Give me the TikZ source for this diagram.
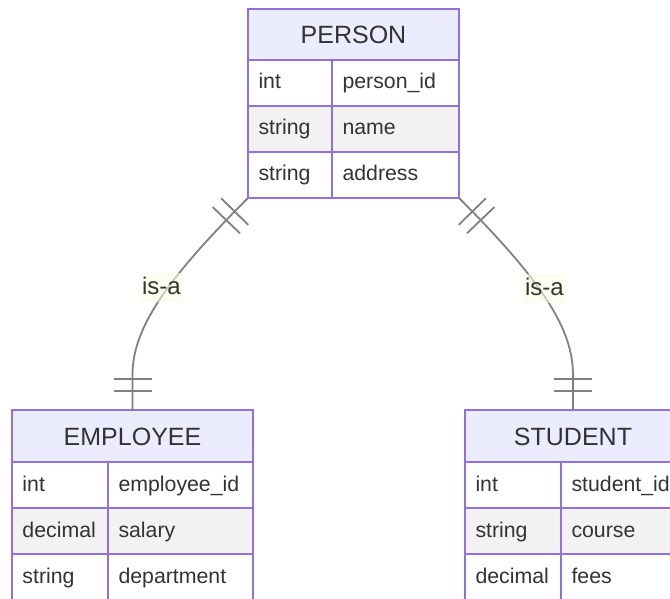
\documentclass[tikz,border=0pt]{standalone}
\usepackage{fontspec}
\setmainfont{Liberation Sans}
\usetikzlibrary{decorations.markings}
\definecolor{bord}{RGB}{147,112,219}
\definecolor{hdrfill}{RGB}{236,236,255}
\definecolor{evenfill}{RGB}{242,242,242}
\definecolor{txt}{RGB}{51,51,51}
\definecolor{edgec}{RGB}{128,128,128}
\definecolor{lblfill}{RGB}{246,252,230}
\tikzset{
  hdrcell/.style={draw=bord, fill=hdrfill, line width=1.8pt, anchor=north west, inner sep=0pt, outer sep=0pt, text=txt, font=\fontsize{25}{30}\selectfont, text height=18pt, text depth=0pt},
  cell/.style={draw=bord, line width=1.8pt, anchor=north west, inner xsep=10.5pt, inner ysep=0pt, outer sep=0pt, minimum height=46pt, align=left, text=txt, font=\fontsize{21.3}{25}\selectfont, text height=16pt, text depth=4pt},
  oddrow/.style={fill=white},
  evenrow/.style={fill=evenfill},
  entitybox/.style={draw=bord, line width=1.8pt, anchor=north west, inner sep=0pt, outer sep=0pt},
  barmark/.style={draw=edgec, line width=1.8pt},
  rel/.style={draw=edgec, line width=1.8pt, postaction={decorate}, decoration={markings,
      mark=at position 19pt with {\draw[barmark] (0pt,-19pt) -- (0pt,19pt);},
      mark=at position 31pt with {\draw[barmark] (0pt,-19pt) -- (0pt,19pt);},
      mark=at position -19pt with {\draw[barmark] (0pt,-19pt) -- (0pt,19pt);},
      mark=at position -31pt with {\draw[barmark] (0pt,-19pt) -- (0pt,19pt);}}},
  lbl/.style={fill=lblfill, fill opacity=0.6, text opacity=1, text=txt, font=\fontsize{24}{28}\selectfont, inner xsep=2.5pt, inner ysep=4pt, text height=17.5pt, text depth=4pt}
}
\begin{document}
\begin{tikzpicture}[x=1pt, y=-1pt]
\useasboundingbox (0,0) rectangle (670,599);
\clip (0,0) rectangle (670,599);
% PERSON
\node[entitybox, minimum width=211pt, minimum height=189pt] (person) at (248,9) {};
\node[hdrcell, minimum width=211pt, minimum height=51pt] (personH) at (248,9) {PERSON};
\node[cell, oddrow, text width=63pt] (p1t) at (248,60) {int};
\node[cell, oddrow, text width=106pt] (p1n) at (332,60) {person\_id};
\node[cell, evenrow, text width=63pt] (p2t) at (248,106) {string};
\node[cell, evenrow, text width=106pt] (p2n) at (332,106) {name};
\node[cell, oddrow, text width=63pt] (p3t) at (248,152) {string};
\node[cell, oddrow, text width=106pt] (p3n) at (332,152) {address};
% EMPLOYEE
\node[entitybox, minimum width=241pt, minimum height=190pt] (employee) at (12,410) {};
\node[hdrcell, minimum width=241pt, minimum height=52pt] (employeeH) at (12,410) {EMPLOYEE};
\node[cell, oddrow, text width=75pt] (e1t) at (12,462) {int};
\node[cell, oddrow, text width=124pt] (e1n) at (108,462) {employee\_id};
\node[cell, evenrow, text width=75pt] (e2t) at (12,508) {decimal};
\node[cell, evenrow, text width=124pt] (e2n) at (108,508) {salary};
\node[cell, oddrow, text width=75pt] (e3t) at (12,554) {string};
\node[cell, oddrow, text width=124pt] (e3n) at (108,554) {department};
% STUDENT
\node[entitybox, minimum width=216pt, minimum height=190pt] (student) at (465,410) {};
\node[hdrcell, minimum width=216pt, minimum height=52pt] (studentH) at (465,410) {STUDENT};
\node[cell, oddrow, text width=75pt] (s1t) at (465,462) {int};
\node[cell, oddrow, text width=99pt] (s1n) at (561,462) {student\_id};
\node[cell, evenrow, text width=75pt] (s2t) at (465,508) {string};
\node[cell, evenrow, text width=99pt] (s2n) at (561,508) {course};
\node[cell, oddrow, text width=75pt] (s3t) at (465,554) {decimal};
\node[cell, oddrow, text width=99pt] (s3n) at (561,554) {fees};
% relationships
\draw[rel] (person.south west) .. controls (163,283) and (132.5,330) .. (132.5,375) -- (employee.north);
\draw[rel] (person.south east) .. controls (544,283) and (573,330) .. (573,375) -- (student.north);
\node[lbl] (isa1) at (161.5,287.5) {is-a};
\node[lbl] (isa2) at (544.5,288.5) {is-a};
\end{tikzpicture}
\end{document}
